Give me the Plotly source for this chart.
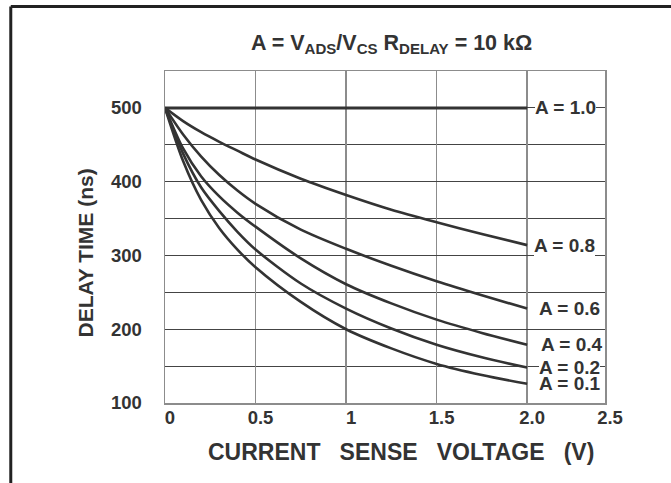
import plotly.graph_objects as go

# ---- data ----
voltage = [0, 0.1, 0.2, 0.3, 0.4, 0.5, 0.75, 1.0, 1.25, 1.5, 1.75, 2.0]
a_10_x = [0, 2.0]
a_10_y = [500, 500]
a_08 = [500, 482, 467, 454, 442, 430, 404, 382, 362, 345, 329, 314]
a_06 = [500, 464, 434, 409, 388, 370, 335, 309, 286, 265, 246, 228]
a_04 = [500, 445, 407, 380, 358, 339, 296, 261, 235, 213, 195, 179]
a_02 = [500, 438, 392, 360, 332, 308, 262, 228, 201, 179, 162, 148]
a_01 = [500, 428, 375, 337, 308, 284, 237, 200, 174, 153, 138, 126]

curve_labels = ["A = 1.0", "A = 0.8", "A = 0.6", "A = 0.4", "A = 0.2", "A = 0.1"]
x_tick_vals = [0, 0.5, 1, 1.5, 2.0, 2.43]
x_tick_text = ["0", "0.5", "1", "1.5", "2.0", "2.5"]
y_tick_vals = [100, 200, 300, 400, 500]
y_tick_text = ["100", "200", "300", "400", "500"]

title_text = "A = V<sub>ADS</sub>/V<sub>CS</sub> R<sub>DELAY</sub> = 10 kΩ"
x_title = "CURRENT\u00a0\u00a0 SENSE\u00a0\u00a0 VOLTAGE\u00a0\u00a0 (V)"
y_title = "DELAY TIME (ns)"

FONT = "Liberation Sans, Arial, Helvetica, sans-serif"
TXT = "#333333"
CURVE = "#333333"

series = [
    (a_10_x, a_10_y),
    (voltage, a_08),
    (voltage, a_06),
    (voltage, a_04),
    (voltage, a_02),
    (voltage, a_01),
]
label_shift = [8, 7, 12, 12, 12, 12]
label_bg = ["white", "white", "white", "white", "white", "rgba(0,0,0,0)"]
label_pad = [0, 0, 0, 2, 0, 0]

fig = go.Figure()
for i, (xs, ys) in enumerate(series):
    fig.add_trace(go.Scatter(
        x=xs, y=ys, mode="lines",
        line=dict(color=CURVE, width=3 if i == 0 else 2.6, shape="spline", smoothing=0.8),
        showlegend=False, hoverinfo="skip",
    ))
    fig.add_annotation(
        x=xs[-1], y=ys[-1], xref="x", yref="y",
        text=curve_labels[i], showarrow=False,
        xanchor="left", yanchor="middle", xshift=label_shift[i],
        bgcolor=label_bg[i], borderpad=label_pad[i], borderwidth=0,
        font=dict(family=FONT, size=19, color=TXT, weight="bold"),
    )

L, R, T, B = 165.3, 65.5, 70.7, 80.3
W, H = 671, 483
pw, ph = W - L - R, H - T - B

def px_to_paper_x(px):
    return (px - L) / pw

def px_to_paper_y(py):
    return (H - B - py) / ph

# axis titles as annotations for exact placement
fig.add_annotation(
    x=px_to_paper_x(401.7), y=px_to_paper_y(452), xref="paper", yref="paper",
    text=x_title, showarrow=False, xanchor="center", yanchor="middle",
    font=dict(family=FONT, size=23, color=TXT, weight="bold"),
)
fig.add_annotation(
    x=px_to_paper_x(86), y=px_to_paper_y(252.5), xref="paper", yref="paper",
    text=y_title, showarrow=False, xanchor="center", yanchor="middle", textangle=-90,
    font=dict(family=FONT, size=21, color=TXT, weight="bold"),
)

# outer frame (top and left edges)
frame = dict(color="#222222", width=3)
fig.add_shape(type="line", xref="paper", yref="paper",
              x0=px_to_paper_x(11), x1=px_to_paper_x(675),
              y0=px_to_paper_y(6.3), y1=px_to_paper_y(6.3), line=frame)
fig.add_shape(type="line", xref="paper", yref="paper",
              x0=px_to_paper_x(11), x1=px_to_paper_x(11),
              y0=px_to_paper_y(6.3), y1=px_to_paper_y(490), line=frame)

fig.update_layout(
    width=W, height=H,
    margin=dict(l=L, r=R, t=T, b=B, pad=0, autoexpand=False),
    paper_bgcolor="white", plot_bgcolor="white",
    font=dict(family=FONT, color=TXT),
    title=dict(
        text=title_text, x=px_to_paper_x(392), xref="paper", xanchor="center",
        y=1 - 42 / H, yref="container", yanchor="middle",
        font=dict(family=FONT, size=21.5, color=TXT, weight="bold"),
    ),
)
fig.update_xaxes(
    range=[0, 2.43], tickvals=x_tick_vals, ticktext=x_tick_text,
    showgrid=True, gridcolor="#8c8c8c", gridwidth=1.5,
    showline=True, mirror=True, linecolor="#8c8c8c", linewidth=1.5,
    ticks="", zeroline=False, ticklabelshift=5, ticklabelstandoff=-3,
    automargin=False,
    tickfont=dict(family=FONT, size=18.5, color=TXT, weight="bold"),
)
fig.update_yaxes(
    range=[100, 550], tickvals=y_tick_vals, ticktext=y_tick_text,
    showgrid=True, gridcolor="#444444", gridwidth=1.2,
    minor=dict(dtick=50, tick0=0, showgrid=True, gridcolor="#444444", gridwidth=1.2, ticks=""),
    showline=True, mirror=True, linecolor="#8c8c8c", linewidth=1.5,
    ticks="", zeroline=False, ticklabelstandoff=18,
    automargin=False,
    tickfont=dict(family=FONT, size=18.5, color=TXT, weight="bold"),
)

fig.write_html(
    "out.html",
    config={"displayModeBar": False, "staticPlot": True},
    post_script="document.body.style.margin='0';document.body.style.padding='0';",
)
